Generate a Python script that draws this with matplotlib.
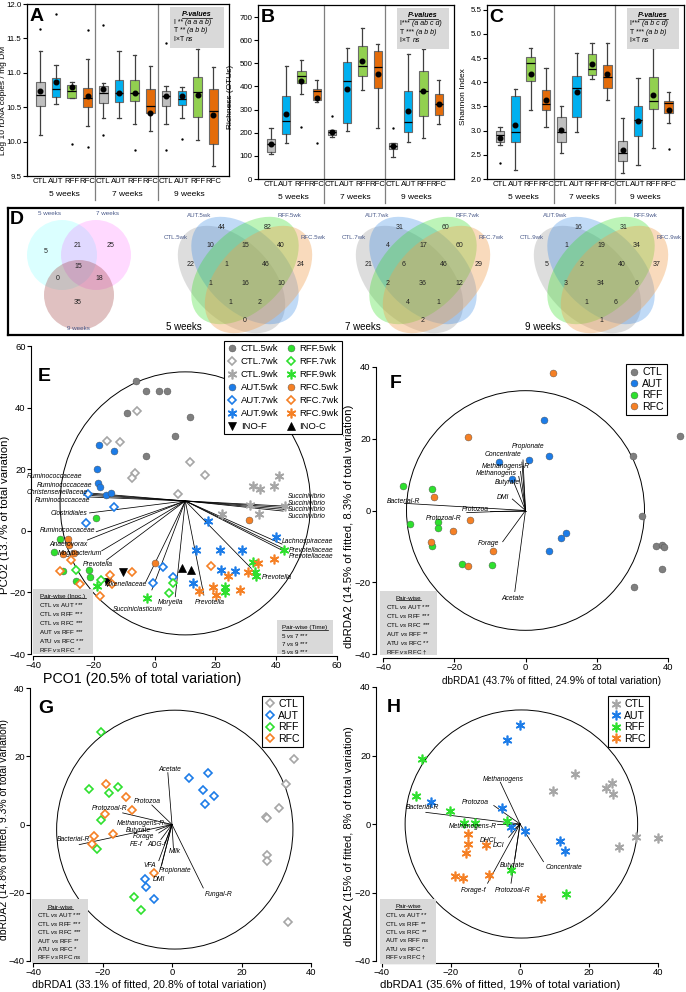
import numpy as np
import matplotlib
matplotlib.use('Agg')
import matplotlib.pyplot as plt
from matplotlib.patches import Ellipse, Circle, Rectangle
from matplotlib.lines import Line2D

plt.rcParams['font.family'] = ['Liberation Sans', 'DejaVu Sans']
plt.rcParams['mathtext.fontset'] = 'custom'
plt.rcParams['mathtext.rm'] = 'Liberation Sans'
plt.rcParams['mathtext.it'] = 'Liberation Sans:italic'
plt.rcParams['mathtext.bf'] = 'Liberation Sans:bold'
plt.rcParams['axes.linewidth'] = 0.9

# ------------------------------------------------------------------ data
treatments = ['CTL', 'AUT', 'RFF', 'RFC']
weeks = ['5 weeks', '7 weeks', '9 weeks']

# Panel A : Log10 rDNA copies / mg DM
A_whislo = [10.10, 10.54, 10.63, 10.22, 10.35, 10.34, 10.25, 10.15, 10.26, 10.35, 10.02, 9.64]
A_q1 = [10.52, 10.65, 10.64, 10.50, 10.56, 10.58, 10.59, 10.41, 10.52, 10.53, 10.36, 9.97]
A_med = [10.68, 10.77, 10.73, 10.63, 10.70, 10.71, 10.71, 10.52, 10.66, 10.62, 10.72, 10.44]
A_q3 = [10.87, 10.92, 10.82, 10.78, 10.81, 10.89, 10.89, 10.77, 10.73, 10.73, 10.94, 10.76]
A_whishi = [11.32, 11.11, 10.86, 11.20, 10.85, 11.32, 11.26, 11.10, 10.81, 10.79, 11.35, 11.09]
A_mean = [10.74, 10.87, 10.80, 10.66, 10.77, 10.70, 10.70, 10.41, 10.66, 10.66, 10.68, 10.38]
A_out = [[11.64], [11.86], [9.97], [11.62, 9.92], [11.70, 10.10], [], [9.88], [], [11.43, 9.88], [10.04], [], []]
A_ptext = [('I ** ', '(a a a b)'), ('T ** ', '(a b b)'), ('I×T ', 'ns')]

# Panel B : Richness (OTUs)
B_whislo = [108, 157, 366, 331, 183, 209, 385, 219, 96, 161, 178, 236]
B_q1 = [115, 194, 413, 341, 190, 243, 445, 395, 128, 204, 272, 277]
B_med = [151, 251, 445, 382, 202, 423, 488, 483, 144, 245, 380, 325]
B_q3 = [172, 360, 468, 388, 212, 504, 575, 553, 154, 380, 468, 366]
B_whishi = [220, 490, 514, 428, 212, 565, 654, 582, 154, 540, 560, 428]
B_mean = [151, 282, 423, 351, 202, 389, 510, 454, 144, 294, 380, 325]
B_out = [[], [], [226], [157], [272], [], [], [], [219], [], [], []]
B_ptext = [('I*** ', '(a ab c d)'), ('T *** ', '(a b b)'), ('I×T ', 'ns')]

# Panel C : Shannon index
C_whislo = [2.70, 2.19, 3.43, 3.07, 2.53, 2.98, 4.07, 3.64, 2.12, 2.28, 2.65, 3.15]
C_q1 = [2.76, 2.76, 4.02, 3.43, 2.76, 3.29, 4.15, 3.88, 2.37, 2.89, 3.44, 3.37]
C_med = [2.91, 2.97, 4.41, 3.55, 2.98, 3.88, 4.28, 4.10, 2.53, 3.22, 3.62, 3.57]
C_q3 = [3.00, 3.71, 4.53, 3.84, 3.29, 4.13, 4.59, 4.36, 2.79, 3.51, 4.12, 3.62]
C_whishi = [3.08, 3.86, 4.71, 4.29, 3.50, 4.60, 4.82, 4.82, 3.26, 4.09, 4.70, 3.79]
C_mean = [2.84, 3.11, 4.17, 3.64, 3.02, 3.79, 4.38, 4.17, 2.59, 3.19, 3.74, 3.43]
C_out = [[2.33], [], [], [], [], [], [], [], [], [], [], [2.62]]
C_ptext = [('I*** ', '(a b c d)'), ('T *** ', '(a b b)'), ('I×T ', 'ns')]

# Panel D : Venn counts
venn3_names = ['5 weeks', '7 weeks', '9 weeks']
venn3_counts = [5, 21, 25, 0, 15, 18, 35]   # 5only, 5&7, 7only, 5&9, all, 7&9, 9only
venn4_sets = [['CTL.5wk', 'AUT.5wk', 'RFF.5wk', 'RFC.5wk'],
              ['CTL.7wk', 'AUT.7wk', 'RFF.7wk', 'RFC.7wk'],
              ['CTL.9wk', 'AUT.9wk', 'RFF.9wk', 'RFC.9wk']]
venn4_5wk = [22, 44, 82, 24, 10, 15, 40, 1, 46, 1, 16, 10, 1, 2, 0]
venn4_7wk = [21, 31, 60, 29, 4, 17, 60, 6, 46, 2, 36, 12, 4, 1, 2]
venn4_9wk = [5, 16, 31, 37, 1, 19, 34, 2, 40, 3, 34, 6, 1, 6, 1]

# Panel E : PCO
E_CTL5_x = [-6.0, -2.7, 1.6, 4.1, 11.5, -9.1, 6.6, -2.7]
E_CTL5_y = [48.6, 45.4, 45.4, 45.4, 36.8, 38.3, 30.7, 24.4]
E_CTL7_x = [-5.8, -15.5, -11.3, -6.3, -7.4, 11.5, 16.6, 7.7]
E_CTL7_y = [38.9, 29.1, 28.9, 18.8, 17.0, 22.4, 18.1, 12.1]
E_CTL9_x = [32.3, 34.6, 39.2, 41.0, 31.5, 34.4, 22.2, 42.9]
E_CTL9_y = [14.6, 13.5, 14.6, 17.8, 8.5, 5.6, 5.5, 8.0]
E_AUT5_x = [-18.2, -13.2, -19.1, -18.6, -17.8, -15.9, -14.4]
E_AUT5_y = [28.0, 25.9, 20.0, 15.6, 14.3, 11.5, 12.4]
E_AUT7_x = [-21.8, -13.4, -22.7, 2.6, -0.5, 6.0]
E_AUT7_y = [11.9, 7.6, 2.6, -11.7, -16.9, -15.1]
E_AUT9_x = [17.5, 13.7, 21.4, 28.7, 21.8, 26.6, 12.6, 39.9]
E_AUT9_y = [3.1, -6.3, -6.3, -6.3, -12.8, -13.1, -16.9, -1.9]
E_RFF5_x = [-19.3, -31.1, -33.0, -30.0, -25.8, -21.5, -21.1]
E_RFF5_y = [4.0, -2.6, -6.9, -13.0, -16.3, -12.8, -14.9]
E_RFF7_x = [-25.8, -17.7, 5.9, 4.9]
E_RFF7_y = [-12.8, -16.0, -17.1, -20.3]
E_RFF9_x = [42.5, 32.3, 32.9, 33.2, 23.0, 23.0, -2.5, -19.0]
E_RFF9_y = [-6.3, -10.1, -13.5, -14.6, -18.4, -19.9, -21.9, -17.9]
E_RFC5_x = [31.0, -28.4, -28.1, -26.5, -30.0, 0.2]
E_RFC5_y = [3.5, -2.5, -4.6, -7.1, -7.4, -10.4]
E_RFC7_x = [-27.5, -31.1, -24.5, -14.6, -13.9, -7.5, 18.4, -17.9]
E_RFC7_y = [-9.5, -13.0, -17.3, -14.4, -17.3, -13.3, -11.5, -21.2]
E_RFC9_x = [39.2, 34.0, 30.7, 24.2, 28.2, 19.2, 14.5, 20.3]
E_RFC9_y = [-9.3, -10.4, -13.3, -14.6, -19.2, -18.2, -19.5, -20.9]
E_INOF_x = [-15.7, -10.4]
E_INOF_y = [-16.5, -13.5]
E_INOC_x = [9.0, 12.1]
E_INOC_y = [-12.0, -12.8]
E_origin = (10.1, 9.7)
E_vec_names = ['Ruminococcaceae', 'Ruminococcaceae', 'Christensenellaceae', 'Ruminococcaceae',
               'Clostridiales', 'Ruminococcaceae', 'Anaerovorax', 'Mogibacterium', 'Prevotella',
               'Rikenellaceae', 'Succiniclasticum', 'Moryella', 'Prevotella', 'Prevotella',
               'Lachnospiraceae', 'Prevotellaceae', 'Prevotellaceae', 'Succinivibrio',
               'Succinivibrio', 'Succinivibrio', 'Succinivibrio']
E_vec_x = [-22.9, -21.4, -23.4, -22.1, -21.4, -19.2, -22.1, -17.4, -15.8, -2.9, -0.9, 6.8,
           16.2, 31.8, 41.9, 42.5, 42.5, 43.1, 43.1, 43.1, 42.3]
E_vec_y = [12.4, 11.9, 11.6, 11.0, 5.8, -0.3, -3.0, -6.5, -9.5, -16.6, -19.2, -21.4,
           -20.9, -12.2, -4.3, -5.8, -6.6, 8.0, 7.5, 6.9, 6.4]
E_lab_x = [-23.7, -20.4, -22.0, -21.2, -22.1, -19.6, -22.1, -17.4, -13.7, -2.5, 2.7, 9.3,
           13.2, 35.4, 41.8, 44.2, 44.2, 43.8, 43.8, 43.8, 43.8]
E_lab_y = [17.5, 14.6, 12.4, 9.8, 5.6, 0.0, -4.3, -7.4, -10.8, -17.4, -25.5, -23.2,
           -23.2, -15.1, -3.5, -6.3, -8.4, 11.0, 8.9, 6.9, 4.8]
E_lab_ha = ['right'] * 12 + ['left'] * 9

# Panel F : dbRDA (5 wk)
F_CTL_x = [43.4, 30.3, 32.7, 36.5, 38.4, 39.0, 38.4, 30.4]
F_CTL_y = [20.8, 15.1, -1.5, -10.0, -9.6, -10.2, -16.3, -21.4]
F_AUT_x = [5.3, 6.5, 1.1, -7.5, -3.7, 11.3, 10.1, 6.5]
F_AUT_y = [25.3, 15.3, 14.1, 13.5, 8.7, -6.3, -7.8, -11.4]
F_RFF_x = [-34.3, -26.2, -32.4, -24.6, -24.5, -26.2, -17.8, -9.4]
F_RFF_y = [6.9, 6.0, -3.8, -3.3, -5.0, -9.9, -15.0, -15.2]
F_RFC_x = [7.7, -16.1, -25.6, -15.5, -20.3, -26.6, -9.0, -16.1]
F_RFC_y = [38.3, 20.4, 3.9, -2.6, -5.6, -8.8, -11.2, -15.6]
F_vec_names = ['Propionate', 'Concentrate', 'Methanogens-R', 'Methanogens', 'Butyrate', 'DMI',
               'Bacterial-R', 'Protozoa', 'Protozoal-R', 'Forage', 'Acetate']
F_vec_x = [-0.7, -1.0, -1.4, -1.9, -3.4, -3.7, -34.0, -10.1, -16.5, -6.4, -3.0]
F_vec_y = [14.1, 13.5, 10.9, 9.5, 8.1, 3.2, 2.0, 0.0, -0.6, -8.7, -22.6]
F_lab_x = [0.7, -1.2, 1.1, -2.4, -1.7, -4.5, -38.8, -14.2, -27.9, -7.3, -3.5]
F_lab_y = [17.9, 15.5, 12.3, 10.2, 7.8, 3.7, 2.5, 0.2, -2.1, -9.1, -24.5]
F_lab_ha = ['center', 'right', 'right', 'right', 'right', 'right', 'left', 'center', 'left', 'right', 'center']

# Panel G : dbRDA (7 wk)
G_CTL_x = [35.0, 32.7, 30.9, 27.1, 27.4, 27.4, 27.4, 33.5]
G_CTL_y = [19.1, 11.8, 4.9, 2.2, 2.0, -9.0, -10.6, -28.7]
G_AUT_x = [4.8, 10.3, 8.8, 12.2, 9.5, -7.8, -7.5, -5.1]
G_AUT_y = [13.7, 15.2, 10.1, 8.3, 6.1, -15.9, -18.4, -21.8]
G_RFF_x = [-20.5, -23.8, -18.1, -15.5, -20.3, -21.6, -11.0, -8.9]
G_RFF_y = [27.2, 10.3, 9.3, 11.1, 1.2, -7.1, -21.3, -25.0]
G_RFC_x = [-19.0, -13.1, -11.5, -19.2, -22.4, -22.9, -17.1, -5.1]
G_RFC_y = [12.0, 8.1, 4.2, 3.1, -3.4, -5.7, -2.9, -14.2]
G_vec_names = ['Acetate', 'Protozoa', 'Protozoal-R', 'Methanogens-R', 'Butyrate', 'Forage',
               'Bacterial-R', 'FE-f', 'ADG-f', 'Milk', 'VFA', 'Propionate', 'DMI', 'Fungal-R']
G_vec_x = [-1.2, -5.8, -14.2, -2.2, -4.6, -3.8, -26.7, -3.2, -2.0, 0.4, -3.8, -3.0, -3.3, 9.0]
G_vec_y = [15.2, 5.7, 3.4, 0.2, -1.7, -2.5, -5.9, -4.4, -5.4, -6.9, -10.6, -12.0, -12.9, -18.6]
G_lab_x = [-0.6, -7.2, -12.8, -2.2, -6.1, -5.1, -33.2, -8.5, -1.7, -0.8, -4.6, -3.7, -5.6, 9.5]
G_lab_y = [16.2, 6.7, 4.7, 0.2, -1.8, -3.6, -4.4, -5.9, -5.9, -8.0, -12.0, -13.5, -16.2, -20.4]
G_lab_ha = ['center', 'center', 'right', 'right', 'right', 'right', 'left', 'right', 'right',
            'left', 'right', 'left', 'left', 'left']

# Panel H : dbRDA (9 wk)
H_CTL_x = [16.0, 9.7, 24.8, 26.6, 26.9, 33.7, 39.9, 28.8]
H_CTL_y = [14.6, 9.7, 10.5, 11.9, 8.8, -3.9, -4.2, -6.6]
H_AUT_x = [0.1, -3.9, -25.8, -5.3, -2.6, 1.5, 11.6, 12.9]
H_AUT_y = [28.8, 24.4, 6.5, 4.6, -0.8, -2.1, -5.1, -7.8]
H_RFF_x = [-28.5, -30.2, -20.2, -16.3, -13.1, -3.9, -2.6, 13.2]
H_RFF_y = [19.0, 8.1, 3.9, 0.2, 0.3, 0.8, -13.4, -20.5]
H_RFC_x = [-15.2, -15.2, -9.9, -15.7, -18.8, -16.4, -8.9, 6.1]
H_RFC_y = [-2.9, -5.8, -6.0, -8.6, -15.3, -15.8, -14.8, -21.6]
H_vec_names = ['Methanogens', 'Protozoa', 'Bacterial-R', 'Methanogens-R', 'DHCI', 'DCI',
               'Concentrate', 'Butyrate', 'Forage-f', 'Protozoal-R']
H_vec_x = [-5.7, -7.6, -27.3, -6.8, -1.6, -3.3, 6.8, -1.5, -9.4, -2.6]
H_vec_y = [12.2, 5.4, 3.4, 0.0, -1.5, -3.9, -11.0, -10.2, -17.3, -17.3]
H_lab_x = [-4.8, -13.0, -33.1, -6.8, -7.0, -4.5, 7.5, -2.3, -13.5, -2.0]
H_lab_y = [13.0, 6.4, 4.7, -0.7, -4.9, -6.3, -12.7, -12.2, -19.3, -19.5]
H_lab_ha = ['center', 'center', 'left', 'right', 'right', 'right', 'left', 'center', 'center', 'center']

pair_inoc = [('CTL', 'AUT'), ('CTL', 'RFF'), ('CTL', 'RFC'), ('AUT', 'RFF'), ('ATU', 'RFC'), ('RFF', 'RFC')]
E_sig = ['***', '***', '***', '***', '***', ' *']
F_sig = ['***', '***', '***', '**', '**', '†']
G_sig = ['***', '***', '***', '**', '*', 'ns']
H_sig = ['**', '**', '**', 'ns', '*', '†']
time_pairs = [('5', '7'), ('7', '9'), ('5', '9')]
time_sig = ['***', '***', '***']

# ------------------------------------------------------------------ figure
W, H = 686, 992
fig = plt.figure(figsize=(W / 100, H / 100), dpi=100)
underlined = []


def px_axes(l, t, r, b):
    return fig.add_axes([l / W, 1 - b / H, (r - l) / W, (b - t) / H])


def ftext(x, y, s, **kw):
    return fig.text(x / W, 1 - y / H, s, **kw)


def it(s):
    return '$\\mathit{' + s.replace(' ', '\\ ') + '}$'


box_cols = ['#BFBFBF', '#00B0F0', '#92D050', '#E46C0A'] * 3
positions = np.arange(1, 13)


def box_panel(rect, lo, q1, med, q3, hi, mean, out, ylim, yticks, yfmt, ylabel, ylab_xy, letter, ptext):
    ax = px_axes(*rect)
    stats = [dict(whislo=lo[i], q1=q1[i], med=med[i], q3=q3[i], whishi=hi[i],
                  mean=mean[i], fliers=out[i]) for i in range(12)]
    bp = ax.bxp(stats, positions=positions, widths=0.55, patch_artist=True,
                showmeans=True, showfliers=True, capwidths=0.22,
                boxprops=dict(edgecolor='#6b6b6b', linewidth=0.8),
                medianprops=dict(color='k', linewidth=0.9),
                whiskerprops=dict(color='#404040', linewidth=0.9),
                capprops=dict(color='#404040', linewidth=0.9),
                meanprops=dict(marker='o', markerfacecolor='k', markeredgecolor='k', markersize=3.3),
                flierprops=dict(marker='o', markerfacecolor='k', markeredgecolor='none', markersize=1.7))
    for patch, c in zip(bp['boxes'], box_cols):
        patch.set_facecolor(c)
    ax.set_xlim(0.15, 13.0)
    ax.set_ylim(*ylim)
    ax.set_yticks(yticks, [yfmt.format(v) for v in yticks], fontsize=5.7)
    ax.set_xticks(positions, treatments * 3, fontsize=5.6)
    ax.tick_params(axis='x', length=0, pad=1.5)
    ax.tick_params(axis='y', length=3, width=0.8, pad=1.0)
    tr = ax.get_xaxis_transform()
    for xs in (4.5, 8.5):
        ax.plot([xs, xs], [1, -0.14], transform=tr, color='#7f7f7f', lw=0.9, clip_on=False)
    for g, xc in enumerate((2.5, 6.5, 10.5)):
        ax.text(xc, -0.107, weeks[g], transform=tr, ha='center', va='center', fontsize=6)
    ftext(ylab_xy[0], ylab_xy[1], ylabel, rotation=90, ha='center', va='center', fontsize=6.0)
    ax.text(0.012, 0.978, letter, transform=ax.transAxes, fontsize=14, fontweight='bold',
            va='top', ha='left')
    ax.add_patch(Rectangle((0.71, 0.745), 0.265, 0.235, transform=ax.transAxes,
                           facecolor='#D9D9D9', edgecolor='none', zorder=5))
    t = ax.text(0.8425, 0.937, 'P-values', transform=ax.transAxes, ha='center', va='center',
                fontsize=5.2, fontstyle='italic', fontweight='bold', zorder=6)
    underlined.append(t)
    for k, (pre, itx) in enumerate(ptext):
        tp = ax.text(0.727, 0.886 - k * 0.05, pre, transform=ax.transAxes, ha='left',
                     va='baseline', fontsize=5.0, zorder=6)
        ax.annotate(itx, xy=(1, 0), xycoords=tp, ha='left', va='bottom', fontsize=5.0,
                    fontstyle='italic', zorder=6, annotation_clip=False)
    return ax


box_panel((27, 4, 229, 176), A_whislo, A_q1, A_med, A_q3, A_whishi, A_mean, A_out,
          (9.5, 12.0), np.arange(9.5, 12.01, 0.5), '{:.1f}', 'Log 10 rDNA copies / mg DM', (4, 100),
          'A', A_ptext)
box_panel((258, 5, 454, 179), B_whislo, B_q1, B_med, B_q3, B_whishi, B_mean, B_out,
          (0, 752), np.arange(0, 701, 100), '{:.0f}', 'Richness (OTUs)', (230, 97), 'B', B_ptext)
box_panel((487, 5, 684, 179), C_whislo, C_q1, C_med, C_q3, C_whishi, C_mean, C_out,
          (2.0, 5.6), np.arange(2.0, 5.51, 0.5), '{:.1f}', 'Shannon Index', (464, 97), 'C', C_ptext)

# ------------------------------------------------------------------ panel D (Venn)
axD = px_axes(8, 208, 683, 335)
axD.set_xlim(8, 683)
axD.set_ylim(H - 335, H - 208)
axD.set_xticks([])
axD.set_yticks([])
for s in axD.spines.values():
    s.set_linewidth(1.6)
axD.text(10, H - 220, 'D', fontsize=14, fontweight='bold', va='center', ha='left')

venn_lab_col = '#4A5A8A'
c3_centers = [(62, 255), (96, 255), (79, 295)]
c3_cols = [('#00FFFF', 0.14), ('#FF00FF', 0.15), ('#A04040', 0.32)]
for (cx, cy), (col, al) in zip(c3_centers, c3_cols):
    axD.add_patch(Circle((cx, H - cy), 35, facecolor=col, alpha=al, edgecolor='none'))
c3_lab_pos = [(49, 214), (107, 214), (78, 329)]
for nm, (lx, ly) in zip(venn3_names, c3_lab_pos):
    axD.text(lx, H - ly, nm, fontsize=4.5, color=venn_lab_col, ha='center', va='center')
c3_num_pos = [(46, 252), (78, 246), (111, 246), (58, 279), (78, 267), (99, 279), (78, 302)]
for n, (nx, ny) in zip(venn3_counts, c3_num_pos):
    axD.text(nx, H - ny, str(n), fontsize=5, ha='center', va='center', color='#222222')

ell_units = [(0.35, 0.47, -45), (0.5, 0.57, -45), (0.5, 0.57, 45), (0.65, 0.47, 45)]
ell_cols = [('#A8A8A8', 0.38), ('#3C8CE6', 0.32), ('#33DD22', 0.32), ('#F0A050', 0.38)]
v4_offsets = [(-54, -10), (-23, -47), (23, -47), (56, -10), (-35, -29), (0, -29), (36, -29),
              (-19, -10), (21, -10), (-35, 9), (0, 9), (36, 9), (-15, 28), (15, 28), (0, 46)]
v4_lab_off = [(-69, -37), (-46, -59), (44, -59), (68, -37)]
UNIT = 90.0
for cxp, counts, names, wk, wx in zip((245, 423, 601), (venn4_5wk, venn4_7wk, venn4_9wk),
                                      venn4_sets, weeks, (166, 345, 525)):
    cy = 275
    for (ux, uy, ang), (col, al) in zip(ell_units, ell_cols):
        axD.add_patch(Ellipse((cxp + (ux - 0.5) * UNIT, (H - cy) + (uy - 0.52) * UNIT),
                              2 * 0.72 * UNIT, 2 * 0.44 * UNIT, angle=ang,
                              facecolor=col, alpha=al, edgecolor='none'))
    for n, (dx, dy) in zip(counts, v4_offsets):
        axD.text(cxp + dx, H - (cy + dy), str(n), fontsize=5, ha='center', va='center', color='#222222')
    for nm, (dx, dy) in zip(names, v4_lab_off):
        axD.text(cxp + dx, H - (cy + dy), nm, fontsize=4.4, ha='center', va='center', color=venn_lab_col)
    axD.text(wx, H - 327, wk, fontsize=7, ha='left', va='center')

# ------------------------------------------------------------------ ordination panels
gray_d = '#7F7F7F'
gray_l = '#A6A6A6'
blue = '#1C7CE8'
green = '#2EE02E'
orange = '#F58025'
AST = (6, 2, 0)


def style_kw(kind, color):
    if kind == 'o':
        return dict(marker='o', ms=5.0, mfc=color, mec='#505050', mew=0.3)
    if kind == 'D':
        return dict(marker='D', ms=4.2, mfc='white', mec=color, mew=1.2)
    if kind == '*':
        return dict(marker=AST, ms=7.0, mfc=color, mec=color, mew=1.2)
    if kind in ('v', '^'):
        return dict(marker=kind, ms=5.5, mfc=color, mec=color, mew=0.5)


def pts(ax, x, y, kind, color):
    ax.plot(x, y, ls='none', zorder=3, clip_on=False, **style_kw(kind, color))


def handle(kind, color):
    return Line2D([], [], ls='none', **style_kw(kind, color))


def ord_axes(rect, xlim, ylim, xticks, yticks, lout, bout):
    ax = px_axes(*rect)
    ax.set_xlim(*xlim)
    ax.set_ylim(*ylim)
    ax.set_xticks(xticks)
    ax.set_yticks(yticks)
    for s in ('top', 'right'):
        ax.spines[s].set_visible(False)
    ax.spines['left'].set_position(('outward', lout))
    ax.spines['bottom'].set_position(('outward', bout))
    ax.spines['left'].set_linewidth(0.8)
    ax.spines['bottom'].set_linewidth(0.8)
    ax.tick_params(length=3, width=0.8, labelsize=6.8, pad=0.8)
    ax.patch.set_alpha(0)
    return ax


def vectors(ax, origin, vx, vy, names, lx, ly, ha):
    ox, oy = origin
    for x, y in zip(vx, vy):
        ax.plot([ox, x], [oy, y], color='k', lw=0.55, zorder=2)
    for nm, x, y, h in zip(names, lx, ly, ha):
        ax.text(x, y, nm, ha=h, va='center', fontsize=4.9, fontstyle='italic', zorder=4)


def pair_box(ax, x0, y0, x1, y1, title, lines, xt, yt, step, fs=4.5):
    ax.add_patch(Rectangle((x0, y0), x1 - x0, y1 - y0, facecolor='#D9D9D9', edgecolor='none',
                           zorder=5, clip_on=False))
    t = ax.text((x0 + x1) / 2, yt, title, ha='center', va='center', fontsize=fs, zorder=6)
    underlined.append(t)
    for k, s in enumerate(lines):
        ax.text(xt, yt - (k + 1) * step, s, ha='left', va='center', fontsize=fs, zorder=6)


def sig_str(s):
    return it('ns') if s == 'ns' else s


def pair_lines(pairs, sigs):
    return ['{} {} {} {}'.format(a, it('vs'), b, sig_str(s)) for (a, b), s in zip(pairs, sigs)]


# ---- E
axE = ord_axes((33, 346, 337, 654), (-40, 60), (-40, 60), range(-40, 61, 20), range(-40, 61, 20), 1.5, 1.5)
axE.add_patch(Ellipse((10.1, 8.9), 2 * 41.2, 2 * 42.7, facecolor='none', edgecolor='k', lw=0.7, zorder=1))
vectors(axE, E_origin, E_vec_x, E_vec_y, E_vec_names, E_lab_x, E_lab_y, E_lab_ha)
E_groups = [(E_CTL5_x, E_CTL5_y, 'o', gray_d, 'CTL.5wk'), (E_CTL7_x, E_CTL7_y, 'D', gray_l, 'CTL.7wk'),
            (E_CTL9_x, E_CTL9_y, '*', gray_l, 'CTL.9wk'), (E_AUT5_x, E_AUT5_y, 'o', blue, 'AUT.5wk'),
            (E_AUT7_x, E_AUT7_y, 'D', blue, 'AUT.7wk'), (E_AUT9_x, E_AUT9_y, '*', blue, 'AUT.9wk'),
            (E_INOF_x, E_INOF_y, 'v', 'k', 'INO-F'),
            (E_RFF5_x, E_RFF5_y, 'o', green, 'RFF.5wk'), (E_RFF7_x, E_RFF7_y, 'D', green, 'RFF.7wk'),
            (E_RFF9_x, E_RFF9_y, '*', green, 'RFF.9wk'), (E_RFC5_x, E_RFC5_y, 'o', orange, 'RFC.5wk'),
            (E_RFC7_x, E_RFC7_y, 'D', orange, 'RFC.7wk'), (E_RFC9_x, E_RFC9_y, '*', orange, 'RFC.9wk'),
            (E_INOC_x, E_INOC_y, '^', 'k', 'INO-C')]
for x, y, k, c, lab in E_groups:
    pts(axE, x, y, k, c)
legE = axE.legend([handle(k, c) for _, _, k, c, _ in E_groups], [g[4] for g in E_groups], ncol=2,
                  loc='upper right', bbox_to_anchor=(1.016, 1.016), fontsize=6.8, frameon=True,
                  fancybox=False, edgecolor='k', framealpha=1, borderpad=0.35, labelspacing=0.42,
                  handlelength=1.0, handletextpad=0.4, columnspacing=0.8, borderaxespad=0)
legE.get_frame().set_linewidth(0.8)
legE.set_zorder(7)
axE.text(-38.5, 50.0, 'E', fontsize=14, fontweight='bold', va='center', ha='left')
pair_box(axE, -40, -40, -20.3, -18.9, 'Pair-wise (Inoc.)', pair_lines(pair_inoc, E_sig),
         -38.0, -21.2, 2.9)
pair_box(axE, 40.3, -40, 58.7, -29.0, 'Pair-wise (Time)', pair_lines(time_pairs, time_sig),
         41.6, -31.5, 2.6)
ftext(5, 515, 'PCO2 (13.7% of total variation)', rotation=90, ha='center', va='center', fontsize=8.2)
ftext(142, 679, 'PCO1 (20.5% of total variation)', ha='center', va='center', fontsize=10.3)

# ---- F
axF = ord_axes((383, 367, 668, 654), (-40, 40), (-40, 40), range(-40, 41, 20), range(-40, 41, 20), 5, 3)
axF.add_patch(Circle((0, 0), 33.4, facecolor='none', edgecolor='k', lw=0.7, zorder=1))
vectors(axF, (0, 0), F_vec_x, F_vec_y, F_vec_names, F_lab_x, F_lab_y, F_lab_ha)
F_groups = [(F_CTL_x, F_CTL_y, gray_d, 'CTL'), (F_AUT_x, F_AUT_y, blue, 'AUT'),
            (F_RFF_x, F_RFF_y, green, 'RFF'), (F_RFC_x, F_RFC_y, orange, 'RFC')]
for x, y, c, lab in F_groups:
    pts(axF, x, y, 'o', c)
legF = axF.legend([handle('o', c) for _, _, c, _ in F_groups], [g[3] for g in F_groups],
                  loc='upper right', bbox_to_anchor=(0.996, 1.01), fontsize=7.6, frameon=True,
                  fancybox=False, edgecolor='k', framealpha=1, borderpad=0.3, labelspacing=0.15,
                  handlelength=0.8, handletextpad=0.4, borderaxespad=0)
legF.get_frame().set_linewidth(0.8)
axF.text(-38.2, 35.5, 'F', fontsize=14, fontweight='bold', va='center', ha='left')
pair_box(axF, -40.8, -40.3, -24.8, -22.4, 'Pair-wise', pair_lines(pair_inoc, F_sig), -39.2, -24.4, 2.5)
ftext(349, 526, 'dbRDA2 (14.5% of fitted, 8.3% of total variation)', rotation=90, ha='center',
      va='center', fontsize=8.2)
ftext(552, 681, 'dbRDA1 (43.7% of fitted, 24.9% of total variation)', ha='center', va='center',
      fontsize=7.2)

# ---- G
axG = ord_axes((33, 688, 311, 961), (-40, 40), (-40, 40), range(-40, 41, 20), range(-40, 41, 20), 2.2, 1.4)
axG.add_patch(Ellipse((0.8, -1.5), 2 * 34.0, 2 * 35.0, facecolor='none', edgecolor='k', lw=0.7, zorder=1))
vectors(axG, (0, 0), G_vec_x, G_vec_y, G_vec_names, G_lab_x, G_lab_y, G_lab_ha)
G_groups = [(G_CTL_x, G_CTL_y, gray_l, 'CTL'), (G_AUT_x, G_AUT_y, blue, 'AUT'),
            (G_RFF_x, G_RFF_y, green, 'RFF'), (G_RFC_x, G_RFC_y, orange, 'RFC')]
for x, y, c, lab in G_groups:
    pts(axG, x, y, 'D', c)
legG = axG.legend([handle('D', c) for _, _, c, _ in G_groups], [g[3] for g in G_groups],
                  loc='upper right', bbox_to_anchor=(0.971, 0.971), fontsize=7.6, frameon=True,
                  fancybox=False, edgecolor='k', framealpha=1, borderpad=0.3, labelspacing=0.15,
                  handlelength=0.8, handletextpad=0.4, borderaxespad=0)
legG.get_frame().set_linewidth(0.8)
axG.text(-38.5, 34.0, 'G', fontsize=14, fontweight='bold', va='center', ha='left')
pair_box(axG, -40.3, -40.6, -24.2, -21.8, 'Pair-wise', pair_lines(pair_inoc, G_sig), -38.8, -24.2, 2.45)
ftext(4.5, 830, 'dbRDA2 (14.8% of fitted, 9.3% of total variation)', rotation=90, ha='center',
      va='center', fontsize=7.5)
ftext(149, 985, 'dbRDA1 (33.1% of fitted, 20.8% of total variation)', ha='center', va='center',
      fontsize=7.7)

# ---- H
axH = ord_axes((382, 687, 658, 961), (-40, 40), (-40, 40), range(-40, 41, 20), range(-40, 41, 20), 4.3, 1.4)
axH.add_patch(Ellipse((0.4, 0.0), 2 * 33.7, 2 * 33.3, facecolor='none', edgecolor='k', lw=0.7, zorder=1))
vectors(axH, (0, 0), H_vec_x, H_vec_y, H_vec_names, H_lab_x, H_lab_y, H_lab_ha)
H_groups = [(H_CTL_x, H_CTL_y, gray_l, 'CTL'), (H_AUT_x, H_AUT_y, blue, 'AUT'),
            (H_RFF_x, H_RFF_y, green, 'RFF'), (H_RFC_x, H_RFC_y, orange, 'RFC')]
for x, y, c, lab in H_groups:
    pts(axH, x, y, '*', c)
legH = axH.legend([handle('*', c) for _, _, c, _ in H_groups], [g[3] for g in H_groups],
                  loc='upper right', bbox_to_anchor=(0.967, 0.967), fontsize=7.6, frameon=True,
                  fancybox=False, edgecolor='k', framealpha=1, borderpad=0.3, labelspacing=0.15,
                  handlelength=0.8, handletextpad=0.4, borderaxespad=0)
legH.get_frame().set_linewidth(0.8)
axH.text(-38.5, 34.0, 'H', fontsize=14, fontweight='bold', va='center', ha='left')
pair_box(axH, -40.6, -40.9, -24.3, -21.9, 'Pair-wise', pair_lines(pair_inoc, H_sig), -39.0, -24.2, 2.45)
ftext(349, 836, 'dbRDA2 (15% of fitted, 8% of total variation)', rotation=90, ha='center',
      va='center', fontsize=8.0)
ftext(500, 985, 'dbRDA1 (35.6% of fitted, 19% of total variation)', ha='center', va='center',
      fontsize=8.2)

# ------------------------------------------------------------------ underlines
fig.canvas.draw()
rend = fig.canvas.get_renderer()
for t in underlined:
    bb = t.get_window_extent(rend)
    yy = bb.y0 + 0.8
    fig.add_artist(Line2D([bb.x0 / W, bb.x1 / W], [yy / H, yy / H], transform=fig.transFigure,
                          color='k', lw=0.5, zorder=10))

fig.savefig('out.png', dpi=100)
